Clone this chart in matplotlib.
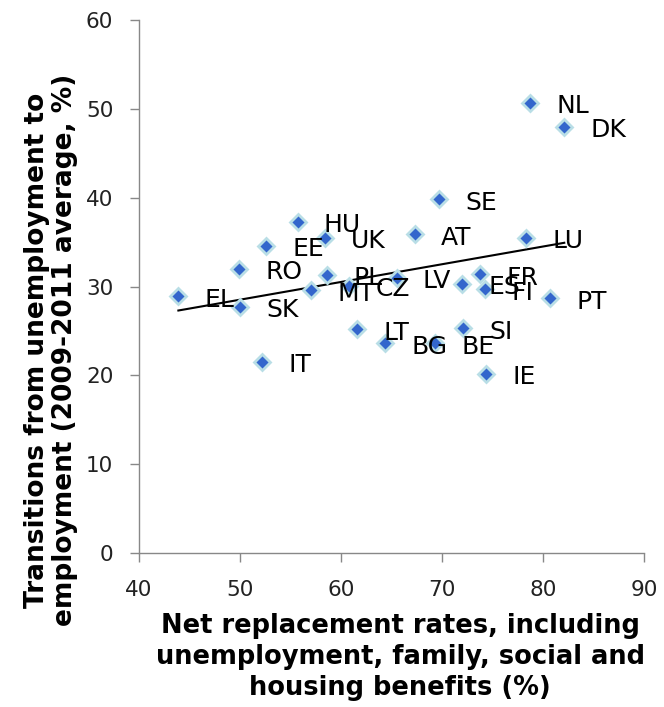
import matplotlib
matplotlib.use("Agg")
import matplotlib.pyplot as plt
import numpy as np

# Pays et valeurs
countries = ["NL", "DK", "SE", "HU", "UK", "EE", "AT", "LU", "RO", "PL",
             "EL", "SK", "MT", "CZ", "LV", "ES", "FR", "FI", "PT", "SI",
             "BE", "BG", "LT", "IT", "IE"]
replacement = [78.7, 82.1, 69.7, 55.7, 58.4, 52.6, 67.3, 78.3, 49.9, 58.6,
               43.9, 50.0, 57.0, 60.8, 65.5, 72.0, 73.8, 74.3, 80.7, 72.1,
               69.3, 64.4, 61.6, 52.2, 74.4]
transitions = [50.7, 48.0, 39.8, 37.3, 35.5, 34.6, 35.9, 35.5, 32.0, 31.3,
               28.9, 27.7, 29.6, 30.1, 31.0, 30.3, 31.4, 29.7, 28.7, 25.3,
               23.6, 23.6, 25.2, 21.5, 20.2]

x_ticks = [40, 50, 60, 70, 80, 90]
y_ticks = [0, 10, 20, 30, 40, 50, 60]

fig = plt.figure(figsize=(6.64, 7.07), dpi=100)
ax = fig.add_axes([0.2093, 0.2178, 0.7607, 0.7539])

# Nuage de points
ax.plot(replacement, transitions, linestyle="none", marker="D",
        markersize=8.5, markerfacecolor="#3366CC",
        markeredgecolor="#B9DEE6", markeredgewidth=2, zorder=3)

# Droite de tendance linéaire
coef = np.polyfit(replacement, transitions, 1)
xs = np.array([min(replacement), max(replacement)])
ax.plot(xs, np.polyval(coef, xs), color="black", linewidth=1.5, zorder=2)

# Etiquettes des pays
for name, x, y in zip(countries, replacement, transitions):
    ax.annotate(name, (x, y), xytext=(19, -2.5), textcoords="offset points",
                ha="left", va="center", fontsize=18, color="black",
                family="DejaVu Sans", zorder=4)

ax.set_xlim(40, 90)
ax.set_ylim(0, 60)
ax.set_xticks(x_ticks)
ax.set_yticks(y_ticks)

for lab in ax.get_xticklabels() + ax.get_yticklabels():
    lab.set_family("DejaVu Sans")
    lab.set_fontsize(15.5)
ax.tick_params(axis="both", direction="out", length=6.5, width=1,
               color="#888888", labelcolor="#222222")
ax.tick_params(axis="x", pad=13)
ax.tick_params(axis="y", pad=12)

for side in ["top", "right"]:
    ax.spines[side].set_visible(False)
for side in ["left", "bottom"]:
    ax.spines[side].set_color("#888888")
    ax.spines[side].set_linewidth(1)

ax.set_xlabel("Net replacement rates, including\nunemployment, family, social and\nhousing benefits (%)",
              fontsize=18.5, fontweight="bold", family="DejaVu Sans",
              linespacing=1.25)
ax.xaxis.set_label_coords(0.517, -0.112)
ax.set_ylabel("Transitions from unemployment to\nemployment (2009-2011 average, %)",
              fontsize=19, fontweight="bold", family="DejaVu Sans",
              linespacing=1.1)
ax.yaxis.set_label_coords(-0.121, 0.381)

fig.savefig("out.png", dpi=100)
